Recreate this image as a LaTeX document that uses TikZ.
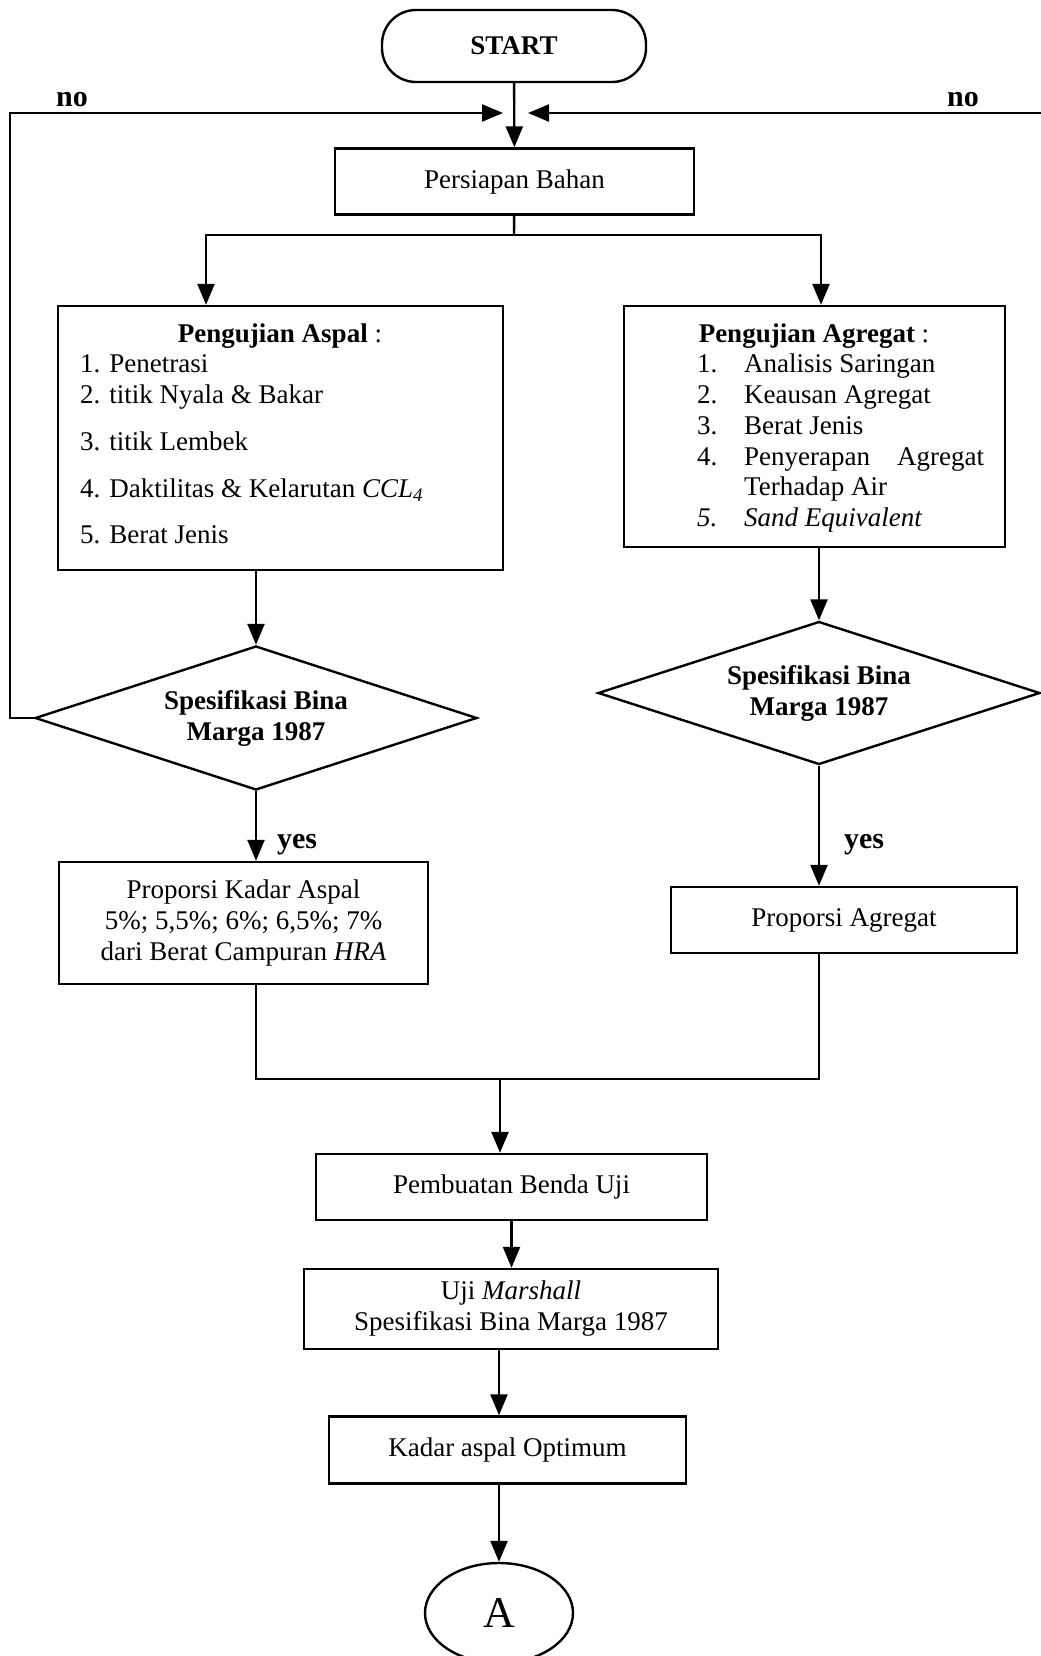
\documentclass[tikz,border=0pt]{standalone}
\usepackage{fontspec}
\setmainfont{Liberation Serif}
\usetikzlibrary{arrows.meta, positioning, shapes.geometric}

\begin{document}
\begin{tikzpicture}[x=0.5pt, y=-0.5pt, >={Triangle[length=10.5pt, width=8.5pt]}, line width=1.2pt,
        txt/.style={font=\fontsize{13.5}{15.5}\selectfont},
        box/.style={draw, txt, align=center, inner sep=0pt},
        decision/.style={draw, diamond, aspect=3, inner sep=0pt, align=center, font=\fontsize{13.5}{15.5}\selectfont\bfseries},
        item/.style={txt, anchor=base west, inner sep=0pt},
        lbl/.style={font=\fontsize{15}{18}\selectfont\bfseries, inner sep=0pt}]
        \useasboundingbox (0,0) rectangle (1040,1656);

        \node[box, rounded corners=17pt, minimum width=132pt, minimum height=36pt, font=\fontsize{13.5}{15.5}\selectfont\bfseries] (Start) at (514,46) {START};
        \node[box, minimum width=179.5pt, minimum height=33pt] (Prep) at (514.5,181.5) {Persiapan Bahan};

        \node[box, minimum width=222.5pt, minimum height=132pt] (Aspal) at (280.5,438) {};
        \node[txt, anchor=base, inner sep=0pt] (AspalHead) at (280,342) {\textbf{Pengujian Aspal} :};
        \foreach \y/\t [count=\i] in {372/{1. Penetrasi}, 403/{2. titik Nyala \& Bakar}, 450/{3. titik Lembek}, 497/{4. Daktilitas \& Kelarutan \textit{CCL\textsubscript{4}}}, 543/{5. Berat Jenis}}
            \node[item] (AspalItem\i) at (79,\y) {\t};

        \node[box, minimum width=190.5pt, minimum height=120.5pt] (Agr) at (814.5,426.5) {};
        \node[txt, anchor=base, inner sep=0pt] (AgrHead) at (814,342) {\textbf{Pengujian Agregat} :};
        \foreach \y/\n/\t [count=\i] in {372/1./Analisis Saringan, 403/2./Keausan Agregat, 434/3./Berat Jenis, 465/4./{\hbox to 120pt{Penyerapan\hfill Agregat}}, 526/\textit{5.}/\textit{Sand Equivalent}} {
            \node[item] (AgrNum\i) at (696,\y) {\n};
            \node[item] (AgrItem\i) at (743,\y) {\t};
        }
        \node[item] (AgrItem4b) at (743,495) {Terhadap Air};

        \node[decision, minimum width=221pt, minimum height=72pt] (SpecA) at (256,718) {Spesifikasi Bina\\Marga 1987};
        \node[decision, minimum width=221pt, minimum height=71.5pt] (SpecG) at (819,693) {Spesifikasi Bina\\Marga 1987};

        \node[box, minimum width=184.5pt, minimum height=61pt] (PropA) at (243.5,923) {Proporsi Kadar Aspal\\5\%; 5,5\%; 6\%; 6,5\%; 7\%\\dari Berat Campuran \textit{HRA}};
        \node[box, minimum width=173pt, minimum height=33pt] (PropG) at (844,920) {Proporsi Agregat};
        \node[box, minimum width=195.5pt, minimum height=33pt] (Benda) at (511.5,1187) {Pembuatan Benda Uji};
        \node[box, minimum width=207pt, minimum height=40pt] (Marsh) at (511,1309) {Uji \textit{Marshall}\\Spesifikasi Bina Marga 1987};
        \node[box, minimum width=178.5pt, minimum height=33.5pt] (Opt) at (507.5,1450) {Kadar aspal Optimum};
        \node[draw, ellipse, minimum width=74pt, minimum height=50pt, inner sep=0pt, font=\fontsize{22}{24}\selectfont] (A) at (499,1613) {A};

        \node[lbl] (NoL) at (72,100) {no};
        \node[lbl] (NoR) at (963,100) {no};
        \node[lbl] (YesA) at (297,845) {yes};
        \node[lbl] (YesG) at (864,845) {yes};

        \coordinate (Split) at (514,235);
        \coordinate (InL) at (503,113);
        \coordinate (InR) at (528,113);
        \coordinate (Merge) at (500,1079);

        \draw[->] (Start) -- (Prep);
        \draw (Prep) -- (Split);
        \draw[->] (Split) -| ([xshift=-37.25pt]Aspal.north);
        \draw[->] (Split) -| ([xshift=3.25pt]Agr.north);
        \draw[->] (Aspal.south -| SpecA.north) -- (SpecA.north);
        \draw[->] (Agr.south -| SpecG.north) -- (SpecG.north);
        \draw[->] (SpecA.west) -- ++(-24,0) |- (InL);
        \draw[->] (SpecG.east) -- ++(4,0) |- (InR);
        \draw[->] (SpecA.south) -- (SpecA.south |- PropA.north);
        \draw[->] (SpecG.south) -- (SpecG.south |- PropG.north);
        \draw (PropA.south -| SpecA.south) |- (Merge) -| (PropG.south -| SpecG.south);
        \draw[->] (Merge) -- (Merge |- Benda.north);
        \draw[->] (Benda.south) -- (Benda.south |- Marsh.north);
        \draw[->] (Marsh.south -| A.north) -- (Opt.north -| A.north);
        \draw[->] (Opt.south -| A.north) -- (A.north);
    \end{tikzpicture}
\end{document}
